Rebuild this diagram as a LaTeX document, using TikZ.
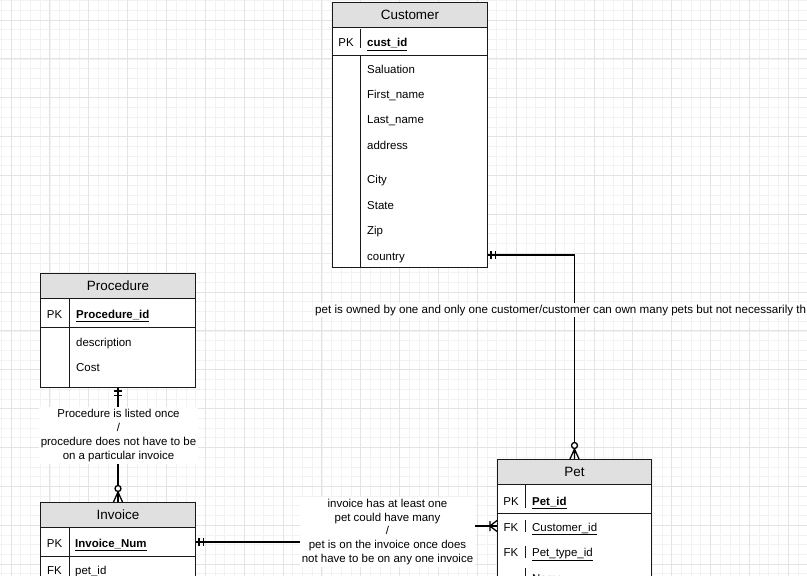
\documentclass[tikz,border=0pt]{standalone}
\usepackage{fontspec}
\setmainfont{Liberation Sans}
\usetikzlibrary{positioning, calc}

\begin{document}
\begin{tikzpicture}[
    % Pixel-like units, y grows downwards
    x=1bp, y=-1bp,
    % Grid styles
    minorgrid/.style={draw=black!5, line width=0.6bp},
    majorgrid/.style={draw=black!11, line width=0.8bp},
    % Table styles
    tablebox/.style={draw=black!90, line width=1bp, fill=white, anchor=north west, minimum width=155bp, inner sep=0pt},
    headbox/.style={draw=black!90, line width=1bp, fill=black!12, anchor=north west, minimum width=155bp, minimum height=25bp, inner sep=0pt, font=\fontsize{13.5}{16}\selectfont},
    rowline/.style={draw=black!90, line width=1bp},
    attr/.style={anchor=west, inner sep=0pt, text height=10.5bp, text depth=0.5bp, font=\fontsize{11.5}{13.5}\selectfont},
    keytag/.style={attr, anchor=center},
    note/.style={fill=white, inner sep=2bp, align=center, font=\fontsize{11.5}{13.9}\selectfont},
    % Relation styles
    relation/.style={draw=black, line width=1.8bp},
    erstroke/.style={draw=black, line width=1.3bp},
    mandone/.pic={\draw[erstroke] (3,-4) -- (3,4) (7.5,-4) -- (7.5,4);},
    zeromany/.pic={\draw[erstroke] (0,-4.5) -- (10,0) -- (0,4.5) (0,0) -- (10,0);
                   \draw[erstroke, fill=white] (13.5,0) circle[radius=3bp];},
    onemany/.pic={\draw[erstroke] (0,-5.5) -- (7,0) -- (0,5.5) (7,-5) -- (7,5);}
]

    \useasboundingbox (0,0) rectangle (807,576);
    \clip (0,0) rectangle (807,576);

    % --- GRID ---
    \foreach \i in {0,...,82}
        \draw[minorgrid] ({1.285+\i*9.715},0) -- ({1.285+\i*9.715},576);
    \foreach \i in {0,...,59}
        \draw[minorgrid] (0,{0.57+\i*9.715}) -- (807,{0.57+\i*9.715});
    \foreach \i in {0,...,20}
        \draw[majorgrid] ({11+\i*38.86},0) -- ({11+\i*38.86},576);
    \foreach \i in {0,...,14}
        \draw[majorgrid] (0,{20+\i*38.86}) -- (807,{20+\i*38.86});

    % --- TABLES ---
    % Customer
    \node[tablebox, minimum height=265bp] (customer) at (332,2) {};
    \node[headbox] (customerhead) at (332,2) {Customer};
    \draw[rowline] (332,56) -- (487,56);
    \draw[rowline] (360,29) -- (360,48) (360,56) -- (360,267);
    \node[keytag] (custpk) at (346,42) {PK};
    \node[attr] (custid) at (367,42) {\textbf{\underline{cust\_id}}};
    \node[attr] (custsal) at (367,69) {Saluation};
    \node[attr] (custfirst) at (367,94) {First\_name};
    \node[attr] (custlast) at (367,119) {Last\_name};
    \node[attr] (custaddr) at (367,145) {address};
    \node[attr] (custcity) at (367,179) {City};
    \node[attr] (custstate) at (367,205) {State};
    \node[attr] (custzip) at (367,230) {Zip};
    \node[attr] (custcountry) at (367,255) {country};

    % Procedure
    \node[tablebox, minimum height=114bp] (procedure) at (40,273) {};
    \node[headbox] (procedurehead) at (40,273) {Procedure};
    \draw[rowline] (40,327) -- (195,327);
    \draw[rowline] (69,298) -- (69,387);
    \node[keytag] (procpk) at (54.5,313) {PK};
    \node[attr] (procid) at (76,313) {\textbf{\underline{Procedure\_id}}};
    \node[attr] (procdesc) at (76,341) {description};
    \node[attr] (proccost) at (76,366) {Cost};

    % Invoice
    \node[tablebox, minimum height=100bp] (invoice) at (40,502) {};
    \node[headbox] (invoicehead) at (40,502) {Invoice};
    \draw[rowline] (40,556) -- (195,556);
    \draw[rowline] (69,527) -- (69,602);
    \node[keytag] (invpk) at (54.5,542) {PK};
    \node[attr] (invnum) at (75,542) {\textbf{\underline{Invoice\_Num}}};
    \node[keytag] (invfk) at (54.5,569) {FK};
    \node[attr] (invpet) at (75,569) {\underline{pet\_id}};

    % Pet
    \node[tablebox, minimum width=154bp, minimum height=140bp] (pet) at (497,459) {};
    \node[headbox, minimum width=154bp] (pethead) at (497,459) {Pet};
    \draw[rowline] (497,513) -- (651,513);
    \draw[rowline] (525.7,485) -- (525.7,508) (525.7,520) -- (525.7,532)
                   (525.7,546) -- (525.7,558) (525.7,568) -- (525.7,600);
    \node[keytag] (petpk) at (511,500) {PK};
    \node[attr] (petid) at (532,500) {\textbf{\underline{Pet\_id}}};
    \node[keytag] (petfk1) at (511,526) {FK};
    \node[attr] (petcustid) at (532,526) {\underline{Customer\_id}};
    \node[keytag] (petfk2) at (511,551) {FK};
    \node[attr] (pettype) at (532,551) {\underline{Pet\_type\_id}};
    \node[attr] (petname) at (532,577) {Name};

    % --- RELATIONS ---
    % Customer owns pets
    \draw[relation] (customer.east |- custcountry.west) -| (pet.north);
    \pic at (customer.east |- custcountry.west) {mandone};
    \pic[rotate=90] at (pet.north) {zeromany};

    % Procedure listed on invoice
    \draw[relation] (procedure.south) -- (invoice.north);
    \pic[rotate=-90] at (procedure.south) {mandone};
    \pic[rotate=90] at (invoice.north) {zeromany};

    % Invoice lists pets
    \draw[relation] (invoice.east |- invnum.west) -- ++(193,0) |- (pet.west |- petcustid.west);
    \pic at (invoice.east |- invnum.west) {mandone};
    \pic[rotate=180] at (pet.west |- petcustid.west) {onemany};

    % --- LABELS ---
    \node[note, anchor=west, font=\fontsize{11.65}{14}\selectfont] (ownlabel) at (313,310)
        {pet is owned by one and only one customer/customer can own many pets but not necessarily th};
    \node[note] (proclabel) at (118.5,435.5)
        {Procedure is listed once\\/\\procedure does not have to be\\on a particular invoice};
    \node[note] (invlabel) at (387.5,532)
        {invoice has at least one\\pet could have many\\/\\pet is on the invoice once does\\not have to be on any one invoice};

\end{tikzpicture}
\end{document}
